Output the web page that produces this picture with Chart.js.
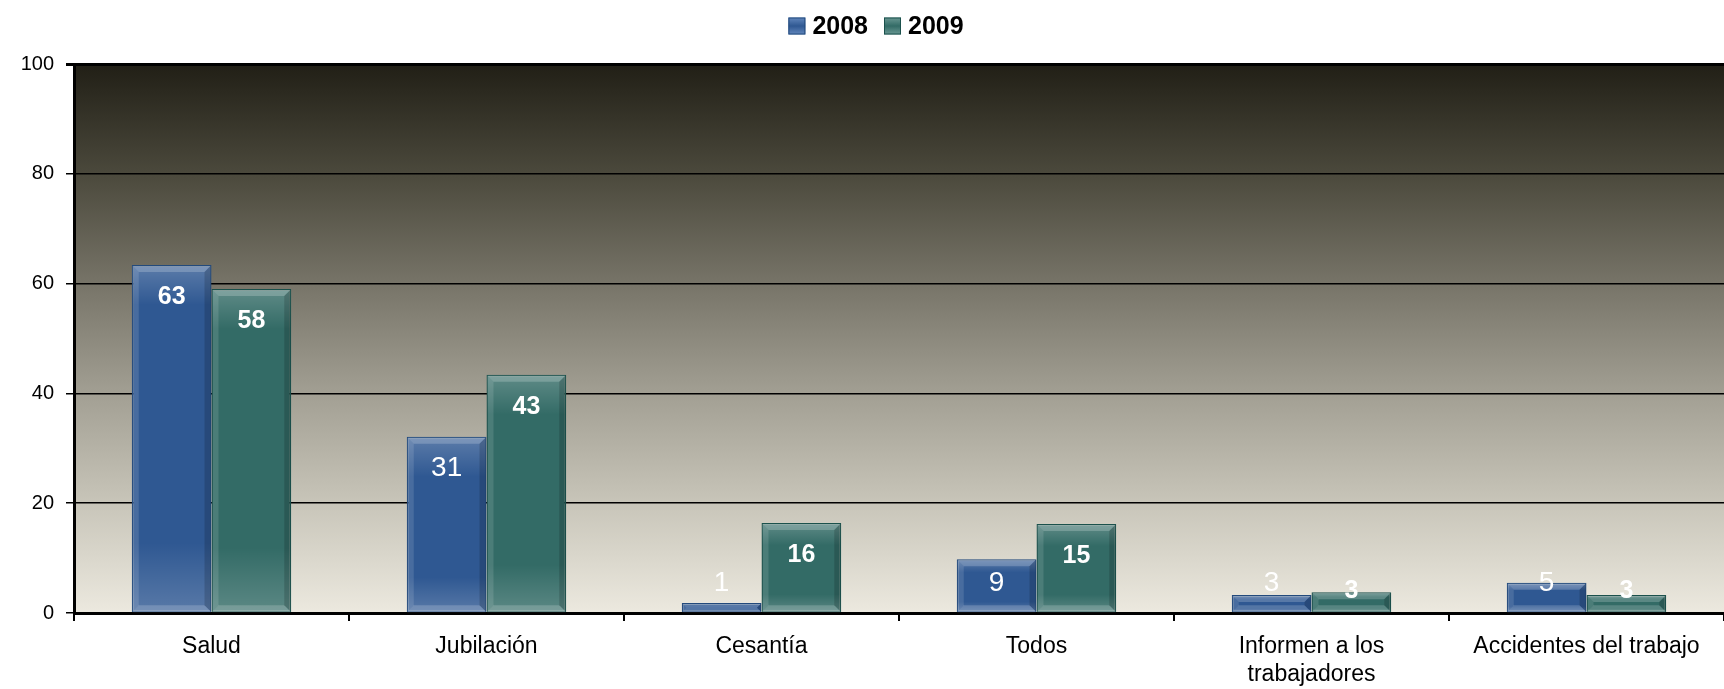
<!DOCTYPE html>
<html>
<head>
<meta charset="utf-8">
<script src="https://cdn.jsdelivr.net/npm/chart.js@4/dist/chart.umd.min.js"></script>
<style>
html,body{margin:0;padding:0;background:#fff;}
#wrap{width:1724px;height:689px;position:relative;}
</style>
</head>
<body>
<div id="wrap"><canvas id="c" width="1724" height="689"></canvas></div>
<script>
const categories = ['Salud', 'Jubilación', 'Cesantía', 'Todos', ['Informen a los', 'trabajadores'], 'Accidentes del trabajo'];
const seriesNames = ['2008', '2009'];
const values2008 = [63.4, 32.1, 1.8, 9.8, 3.3, 5.5];
const values2009 = [59.0, 43.4, 16.4, 16.2, 3.8, 3.3];
const labels2008 = ['63', '31', '1', '9', '3', '5'];
const labels2009 = ['58', '43', '16', '15', '3', '3'];
const boldLabels2008 = [true, false, false, false, false, false];
const boldLabels2009 = [true, true, true, true, true, true];
const yTickValues = [0, 20, 40, 60, 80, 100];

const FONT = '"Liberation Sans", Arial, sans-serif';
const colors = {
  '2008': {fill: '#2f5892', border: '#234a7c', light: '#6287bd'},
  '2009': {fill: '#336b66', border: '#1b514c', light: '#6b9994'}
};
const dataLabels = [labels2008, labels2009];
const boldLabels = [boldLabels2008, boldLabels2009];

const bgPlugin = {
  id: 'bg',
  beforeDraw(chart) {
    const {ctx, chartArea: a} = chart;
    const g = ctx.createLinearGradient(0, a.top, 0, a.bottom);
    g.addColorStop(0, '#211f16');
    g.addColorStop(0.2, '#4b493c');
    g.addColorStop(0.4, '#777468');
    g.addColorStop(0.6, '#a29f93');
    g.addColorStop(0.8, '#c8c5b9');
    g.addColorStop(1, '#ece9df');
    ctx.save();
    ctx.fillStyle = g;
    ctx.fillRect(a.left, a.top, a.right - a.left, a.bottom - a.top);
    ctx.restore();
  }
};

const barPlugin = {
  id: 'barfx',
  afterDatasetsDraw(chart) {
    const ctx = chart.ctx;
    const zero = chart.scales.y.getPixelForValue(0);
    chart.data.datasets.forEach((ds, di) => {
      const meta = chart.getDatasetMeta(di);
      meta.data.forEach((bar, i) => {
        const p = bar.getProps(['x', 'y', 'base', 'width'], true);
        const l = p.x - p.width / 2, r = p.x + p.width / 2, t = p.y, b = p.base;
        const h = b - t;
        ctx.save();
        ctx.beginPath();
        ctx.rect(l + 1, t + 1, r - l - 2, h - 1);
        ctx.clip();
        const vg = ctx.createLinearGradient(0, t, 0, b);
        vg.addColorStop(0, 'rgba(255,255,255,0.22)');
        vg.addColorStop(Math.min(0.25, 40 / Math.max(h, 1)), 'rgba(255,255,255,0.0)');
        vg.addColorStop(0.8, 'rgba(255,255,255,0.0)');
        vg.addColorStop(1, 'rgba(255,255,255,0.2)');
        ctx.fillStyle = vg;
        ctx.fillRect(l, t, r - l, h);
        const bw = Math.min(7, h / 2);
        ctx.fillStyle = 'rgba(255,255,255,0.2)';
        ctx.beginPath(); ctx.moveTo(l, t); ctx.lineTo(r, t); ctx.lineTo(r - bw, t + bw); ctx.lineTo(l + bw, t + bw); ctx.closePath(); ctx.fill();
        ctx.fillStyle = 'rgba(255,255,255,0.12)';
        ctx.beginPath(); ctx.moveTo(l, t); ctx.lineTo(l + bw, t + bw); ctx.lineTo(l + bw, b - bw); ctx.lineTo(l, b); ctx.closePath(); ctx.fill();
        ctx.fillStyle = 'rgba(0,0,0,0.16)';
        ctx.beginPath(); ctx.moveTo(r, t); ctx.lineTo(r - bw, t + bw); ctx.lineTo(r - bw, b - bw); ctx.lineTo(r, b); ctx.closePath(); ctx.fill();
        ctx.fillStyle = 'rgba(255,255,255,0.18)';
        ctx.beginPath(); ctx.moveTo(l, b); ctx.lineTo(l + bw, b - bw); ctx.lineTo(r - bw, b - bw); ctx.lineTo(r, b); ctx.closePath(); ctx.fill();
        ctx.restore();
        const txt = dataLabels[di][i];
        const bold = boldLabels[di][i];
        const ly = Math.min(t + 32, zero - (di === 0 ? 30 : 22));
        ctx.save();
        ctx.fillStyle = '#ffffff';
        ctx.font = (bold ? 'bold 25px ' : '28px ') + FONT;
        ctx.textAlign = 'center';
        ctx.textBaseline = 'middle';
        ctx.fillText(txt, p.x, ly);
        ctx.restore();
      });
    });
  },
  afterDraw(chart) {
    const ctx = chart.ctx;
    ctx.save();
    ctx.font = 'bold 25px ' + FONT;
    const box = 17, gapBT = 7, gapItems = 16;
    const widths = seriesNames.map(s => ctx.measureText(s).width);
    let total = 0;
    widths.forEach((w, i) => { total += box + gapBT + w + (i < widths.length - 1 ? gapItems : 0); });
    let x = 876 - total / 2;
    const cy = 26;
    seriesNames.forEach((s, i) => {
      const c = colors[s];
      const g = ctx.createLinearGradient(0, cy - box / 2, 0, cy + box / 2);
      g.addColorStop(0, c.light);
      g.addColorStop(0.5, c.fill);
      g.addColorStop(1, c.light);
      ctx.fillStyle = g;
      ctx.fillRect(x, cy - box / 2, box, box);
      ctx.strokeStyle = c.border;
      ctx.lineWidth = 1;
      ctx.strokeRect(x + 0.5, cy - box / 2 + 0.5, box - 1, box - 1);
      ctx.fillStyle = '#000';
      ctx.textAlign = 'left';
      ctx.textBaseline = 'middle';
      ctx.fillText(s, x + box + gapBT, cy + 1);
      x += box + gapBT + widths[i] + gapItems;
    });
    ctx.restore();
  }
};

new Chart(document.getElementById('c'), {
  type: 'bar',
  data: {
    labels: categories,
    datasets: [
      {label: seriesNames[0], data: values2008, backgroundColor: colors['2008'].fill, borderColor: colors['2008'].border, borderWidth: 1.5, borderSkipped: false},
      {label: seriesNames[1], data: values2009, backgroundColor: colors['2009'].fill, borderColor: colors['2009'].border, borderWidth: 1.5, borderSkipped: false}
    ]
  },
  options: {
    responsive: false,
    animation: false,
    layout: {padding: {top: 64, right: 0, left: 0, bottom: 0}},
    plugins: {legend: {display: false}, tooltip: {enabled: false}, title: {display: false}},
    datasets: {bar: {categoryPercentage: 0.58, barPercentage: 1.0}},
    scales: {
      x: {
        grid: {display: true, drawOnChartArea: false, drawTicks: true, tickLength: 8, color: '#000', lineWidth: 2, offset: true},
        border: {display: true, color: '#000', width: 3},
        ticks: {color: '#000', font: {family: FONT, size: 23}, padding: 12, maxRotation: 0, autoSkip: false},
        afterFit(s) { s.height = 76; }
      },
      y: {
        min: 0, max: 100,
        afterBuildTicks(s) { s.ticks = yTickValues.map(v => ({value: v})); },
        grid: {color: '#000', lineWidth: (c) => (c.tick && c.tick.value === 100 ? 3 : 1.5), tickLength: 8, drawTicks: true},
        border: {display: true, color: '#000', width: 3},
        ticks: {color: '#000', font: {family: FONT, size: 20}, padding: 12},
        afterFit(s) { s.width = 74; }
      }
    }
  },
  plugins: [bgPlugin, barPlugin]
});
</script>
</body>
</html>
